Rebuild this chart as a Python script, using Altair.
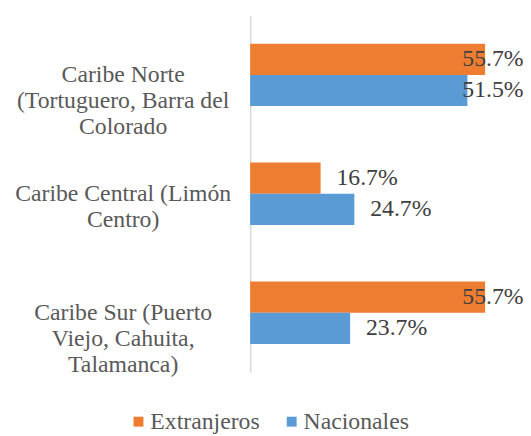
import altair as alt
import pandas as pd

categories = [
    "Caribe Norte|(Tortuguero, Barra del|Colorado",
    "Caribe Central (Limón|Centro)",
    "Caribe Sur (Puerto|Viejo, Cahuita,|Talamanca)",
]
series = ["Extranjeros", "Nacionales"]
extranjeros = [55.7, 16.7, 55.7]
nacionales = [51.5, 24.7, 23.7]
colors = ["#ED7D31", "#5B9BD5"]

rows = []
for c, e, n in zip(categories, extranjeros, nacionales):
    rows.append({"region": c, "grupo": series[0], "valor": e})
    rows.append({"region": c, "grupo": series[1], "valor": n})
df = pd.DataFrame(rows)

FONT = "Liberation Serif"

y_enc = alt.Y(
    "region:N",
    sort=categories,
    title=None,
    scale=alt.Scale(paddingInner=0.475, paddingOuter=0.2375),
    axis=alt.Axis(
        ticks=False,
        labelAlign="center",
        labelBaseline="middle",
        labelPadding=129,
        labelExpr="split(datum.label, '|')",
        labelFont=FONT,
        labelFontSize=24,
        labelColor="#595959",
        labelLineHeight=26.5,
        labelLimit=0,
        domainColor="#D9D9D9",
        domainWidth=1.5,
        grid=False,
    ),
)
yoff = alt.YOffset("grupo:N", sort=series)
x_scale = alt.Scale(domain=[0, 60])

bars = alt.Chart(df).mark_bar().encode(
    x=alt.X("valor:Q", scale=x_scale, axis=None),
    y=y_enc,
    yOffset=yoff,
    color=alt.Color(
        "grupo:N",
        sort=series,
        scale=alt.Scale(domain=series, range=colors),
        legend=alt.Legend(
            title=None,
            orient="none",
            legendX=-125,
            legendY=399,
            direction="horizontal",
            symbolType="square",
            symbolSize=100,
            symbolStrokeWidth=0,
            labelFont=FONT,
            labelFontSize=24,
            labelColor="#595959",
            labelOffset=0,
            columnPadding=20,
            padding=0,
        ),
    ),
)

labels = alt.Chart(df).transform_calculate(
    pos="min(datum.valor + 3.75, 50.3)",
    txt="format(datum.valor, '.1f') + '%'",
).mark_text(
    align="left", baseline="middle", font=FONT, fontSize=24, color="#404040"
).encode(
    x=alt.X("pos:Q", scale=x_scale, axis=None),
    y=alt.Y("region:N", sort=categories),
    yOffset=yoff,
    text="txt:N",
)

chart = (
    alt.layer(bars, labels)
    .properties(
        width=256,
        height=361,
        autosize=alt.AutoSizeParams(type="none"),
        padding={"left": 245, "top": 5, "right": 20, "bottom": 62},
        background="white",
    )
    .configure(font=FONT)
    .configure_view(stroke=None)
)

chart.save("out.html", embed_options={"renderer": "svg", "actions": False})
